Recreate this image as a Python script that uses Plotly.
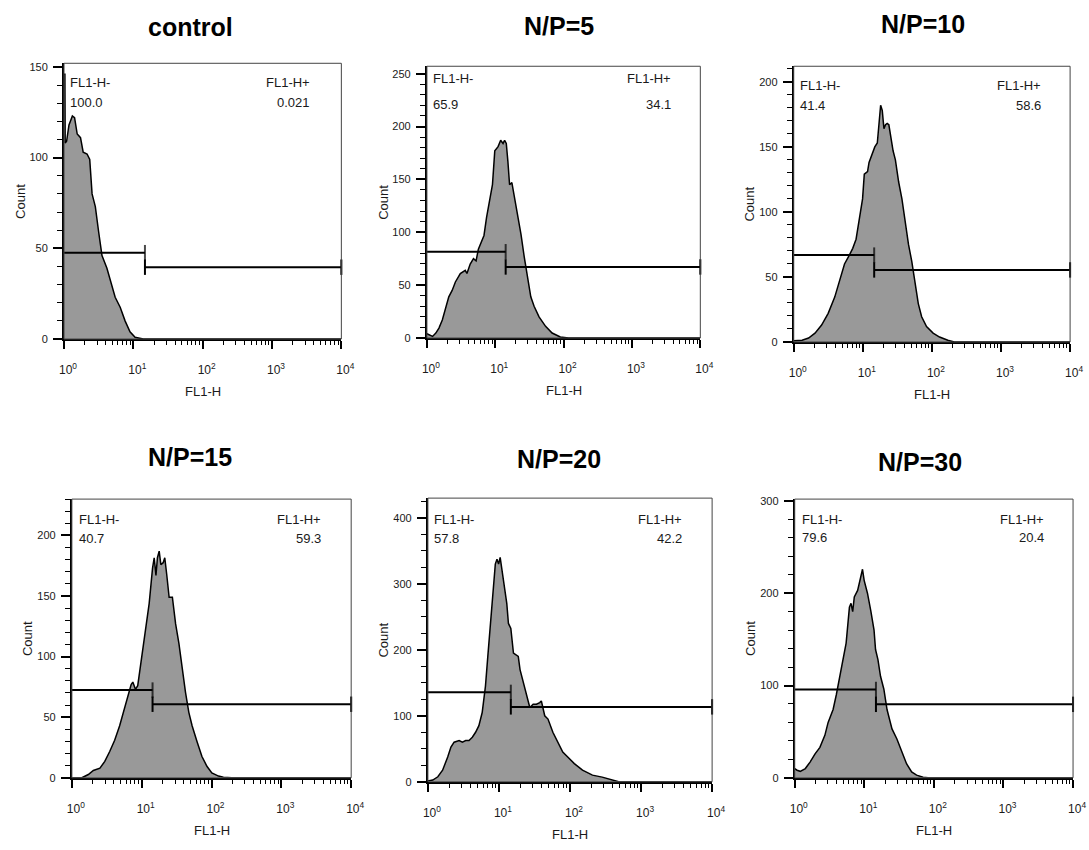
import plotly.graph_objects as go

W, H = 1089, 850

# ---------------- data ----------------
titles = ["control", "N/P=5", "N/P=10", "N/P=15", "N/P=20", "N/P=30"]
neg_label = "FL1-H-"
pos_label = "FL1-H+"
neg_pct = ["100.0", "65.9", "41.4", "40.7", "57.8", "79.6"]
pos_pct = ["0.021", "34.1", "58.6", "59.3", "42.2", "20.4"]
x_title = "FL1-H"
y_title = "Count"

# histogram outlines (FL1-H value, count)
control_x = [1.0, 1.03, 1.04, 1.09, 1.18, 1.32, 1.42, 1.55, 1.73, 1.89, 2.15, 2.35, 2.54, 2.83, 3.16,
             3.53, 4.16, 4.65, 5.47, 6.46, 7.60, 8.95, 10.6, 13.9, 10000]
control_y = [146, 146, 108, 109, 118, 123, 122, 113, 111, 103, 102, 99, 80, 73, 59,
             46, 39, 32, 23, 17.5, 10, 4, 1, 0, 0]

np5_x = [1.0, 1.08, 1.21, 1.35, 1.50, 1.68, 1.87, 2.09, 2.34, 2.61, 3.08, 3.64, 3.85, 4.30, 4.80,
         5.24, 5.66, 6.32, 6.84, 7.46, 8.34, 9.10, 9.84, 11.0, 12.0, 13.0, 13.7, 14.5, 15.3, 16.2,
         17.5, 19.1, 21.3, 23.8, 26.5, 29.6, 33.1, 37.0, 43.7, 54.5, 67.9, 89.5, 118, 10000]
np5_y = [4, 3, 1.5, 4.7, 9.4, 17, 28, 39, 45, 53, 61, 64, 61, 70, 75,
         73, 84, 91, 97, 114, 130, 145, 177, 181, 187, 184, 187, 184, 167, 145,
         147, 133, 116, 98, 77, 58, 39, 30, 20, 11, 4.7, 1, 0, 0]

np10_x = [1.0, 1.32, 1.64, 2.03, 2.53, 3.15, 3.92, 4.61, 5.43, 6.41, 7.14, 7.98, 8.89, 9.91, 10.5,
          11.7, 12.3, 13.8, 14.9, 16.2, 17.1, 18.1, 19.1, 20.2, 21.3, 22.5, 23.8, 25.6, 27.4, 29.6,
          33.0, 36.8, 41.0, 45.8, 51.1, 57.0, 63.5, 71.0, 83.6, 104, 129, 170, 211, 10000]
np10_y = [1, 1.3, 3, 6.8, 13, 22, 34.5, 47, 60, 67, 72, 79, 96, 110, 129,
          131, 138, 145, 150, 153, 170.5, 182, 178, 164, 167, 168, 167, 155, 147, 140,
          123, 110, 92, 75, 62, 44.6, 29.5, 19.4, 11.8, 6.8, 3.8, 1.3, 0, 0]

np15_x = [1.0, 1.39, 1.72, 2.03, 2.52, 2.96, 3.48, 4.10, 4.83, 5.69, 6.34, 7.06, 7.46, 8.13, 8.77,
          9.46, 10.3, 11.5, 12.8, 14.3, 15.1, 16.0, 16.8, 17.8, 18.8, 20.3, 21.4, 22.8, 24.7, 27.5,
          30.6, 34.1, 38.0, 42.4, 47.3, 52.7, 61.9, 72.9, 85.9, 101, 126, 148, 194, 10000]
np15_y = [0, 0, 2.7, 6, 8, 13.5, 21.7, 31, 43, 57, 68, 77, 79, 73, 76,
          89, 106, 122, 144, 173, 181.6, 167, 181.6, 187, 176, 177.5, 181.6, 168, 149, 149,
          127, 111, 89, 70.5, 54, 43, 30, 17.6, 9.5, 4, 1.4, 0.5, 0, 0]

np20_x = [1.0, 1.17, 1.38, 1.61, 1.90, 2.11, 2.34, 2.75, 3.06, 3.40, 3.79, 4.22, 4.69, 5.22, 5.81,
          6.46, 6.97, 7.59, 8.26, 8.89, 9.38, 9.89, 10.4, 11.0, 11.6, 12.9, 13.6, 14.7, 16.0, 17.4,
          18.7, 19.8, 22.0, 24.5, 27.2, 30.3, 33.7, 37.5, 39.5, 44.1, 49.0, 57.4, 67.5, 79.1, 92.9,
          115, 150, 207, 284, 392, 484, 10000]
np20_y = [1, 2.5, 7.5, 17.5, 37.5, 52.5, 60, 62.5, 60, 62.5, 62.5, 67.5, 75, 85, 105,
          145, 190, 240, 280, 330, 337.5, 330, 340, 320, 300, 270, 240, 232.5, 195, 192.5,
          190, 170, 150, 130, 112.5, 117.5, 117.5, 120, 122.5, 100, 95, 75, 60, 45, 37.5,
          27.5, 17.5, 10, 7, 2.5, 0, 0]

np30_x = [1.0, 1.08, 1.20, 1.42, 1.66, 1.96, 2.30, 2.71, 3.02, 3.56, 3.96, 4.42, 4.92, 5.48, 6.11,
          6.44, 6.81, 7.18, 8.02, 8.93, 9.42, 9.95, 11.1, 12.4, 13.8, 14.5, 15.7, 17.1, 19.1, 21.2,
          25.0, 29.4, 34.6, 40.6, 47.9, 56.4, 70.0, 82.2, 10000]
np30_y = [10, 8.2, 7, 10, 17, 26, 33, 46, 60, 74, 90, 110, 128, 146, 185,
          189, 180, 196, 203, 221, 226, 214, 200, 181, 160, 139, 128, 110, 96, 74,
          53, 42, 28, 15, 6.4, 2.9, 0.7, 0, 0]

hist_x = [control_x, np5_x, np10_x, np15_x, np20_x, np30_x]
hist_y = [control_y, np5_y, np10_y, np15_y, np20_y, np30_y]

# gates
gate_start = 1
gate_end = 10000
gate_boundary = [14.7, 14.2, 14.6, 14.3, 14.7, 14.7]
gate_neg_level = [47.6, 81.6, 66.8, 72.4, 135.5, 95.7]
gate_pos_level = [39.6, 67.2, 55.4, 60.7, 113.5, 79.6]

# axes
y_max = [152, 257, 212, 230, 430, 302]
y_dtick = [50, 50, 50, 50, 100, 100]
y_minor = [10, 10, 10, 10, 25, 20]
x_tickvals = [1, 10, 100, 1000, 10000]
x_ticktext = ["10<sup>0</sup>", "10<sup>1</sup>", "10<sup>2</sup>", "10<sup>3</sup>", "10<sup>4</sup>"]
x_minor_vals = [m * d for d in [1, 10, 100, 1000] for m in range(2, 10)]

# ---------------- layout (pixels) ----------------
boxes = [(60, 60, 342, 339), (429, 63, 707, 338), (802, 63, 1083, 342),
         (68, 501, 352, 783), (430, 500, 719, 787), (803, 501, 1086, 783)]
title_pos = [(189, 23), (563, 22), (933, 20), (188, 458), (563, 460), (930, 463)]
neg_text_pos = [(64, 79, 100), (433, 75, 102), (806, 82, 103), (73, 522, 541), (434, 522, 541), (808, 522, 540)]
pos_text_right = [312, 679, 1055, 323, 690, 1058]

FONT = "Liberation Sans, Arial, sans-serif"
TXT = "#1a1a1a"
fill_col = "#999999"


def px(x):
    return x / W


def py(y):
    return 1 - y / H


fig = go.Figure()
annotations = []
shapes = []
layout = dict(width=W, height=H, margin=dict(l=0, r=0, t=0, b=0),
              paper_bgcolor="white", plot_bgcolor="white", showlegend=False,
              font=dict(family=FONT, color=TXT, size=12))

for i in range(6):
    k = "" if i == 0 else str(i + 1)
    xa, ya = "x" + k, "y" + k
    L, T, R, B = boxes[i]

    fig.add_trace(go.Scatter(x=hist_x[i], y=hist_y[i], mode="lines", fill="tozeroy",
                             fillcolor=fill_col, line=dict(color="black", width=1.5),
                             xaxis=xa, yaxis=ya, hoverinfo="skip"))
    # negative gate
    fig.add_trace(go.Scatter(x=[gate_start, gate_boundary[i]], y=[gate_neg_level[i]] * 2,
                             mode="lines+markers", cliponaxis=False,
                             line=dict(color="black", width=2),
                             marker=dict(symbol="line-ns", size=[0, 11],
                                         line=dict(color="black", width=2)),
                             xaxis=xa, yaxis=ya, hoverinfo="skip"))
    # positive gate
    fig.add_trace(go.Scatter(x=[gate_boundary[i], gate_end], y=[gate_pos_level[i]] * 2,
                             mode="lines+markers", cliponaxis=False,
                             line=dict(color="black", width=2),
                             marker=dict(symbol="line-ns", size=11,
                                         line=dict(color="black", width=2)),
                             xaxis=xa, yaxis=ya, hoverinfo="skip"))

    layout["xaxis" + k] = dict(
        domain=[px(L), px(R)], anchor=ya, type="log", range=[0, 4],
        tickmode="array", tickvals=x_tickvals, ticktext=x_ticktext,
        ticks="outside", ticklen=8, tickwidth=1.5, tickcolor="black",
        ticklabelstandoff=11, ticklabelshift=4,
        tickfont=dict(size=12, family=FONT, color=TXT),
        showline=True, linewidth=2, linecolor="black", showgrid=False, zeroline=False,
        minor=dict(tickmode="array", tickvals=x_minor_vals, ticks="outside", ticklen=4,
                   tickwidth=1, tickcolor="black", showgrid=False),
        fixedrange=True)
    layout["yaxis" + k] = dict(
        domain=[py(B), py(T)], anchor=xa, range=[0, y_max[i]],
        tick0=0, dtick=y_dtick[i], ticks="outside", ticklen=9, tickwidth=1.5,
        tickcolor="black", ticklabelstandoff=3,
        tickfont=dict(size=11, family=FONT, color=TXT),
        showline=True, linewidth=2, linecolor="black", showgrid=False, zeroline=False,
        minor=dict(dtick=y_minor[i], ticks="outside", ticklen=5, tickwidth=1,
                   tickcolor="black", showgrid=False),
        fixedrange=True)

    # box (top/right border)
    shapes.append(dict(type="rect", xref=xa + " domain", yref=ya + " domain",
                       x0=0, x1=1, y0=0, y1=1, line=dict(color="#444", width=1),
                       layer="above"))

    # titles
    tx, ty = title_pos[i]
    annotations.append(dict(text="<b>%s</b>" % titles[i], x=px(tx), y=py(ty), xref="paper",
                            yref="paper", showarrow=False, xanchor="center", yanchor="middle",
                            font=dict(size=25, family=FONT, color="black")))
    # axis titles
    annotations.append(dict(text=y_title, x=px(L - 45), y=py((T + B) / 2), xref="paper",
                            yref="paper", showarrow=False, textangle=-90,
                            xanchor="center", yanchor="middle",
                            font=dict(size=13, family=FONT, color=TXT)))
    annotations.append(dict(text=x_title, x=px((L + R) / 2), y=py(B + 53), xref="paper",
                            yref="paper", showarrow=False, xanchor="center", yanchor="middle",
                            font=dict(size=13, family=FONT, color=TXT)))
    # gate labels
    nx, ny1, ny2 = neg_text_pos[i]
    rx = pos_text_right[i]
    for txt, x, y, anc in [(neg_label, nx, ny1, "left"), (neg_pct[i], nx, ny2, "left"),
                           (pos_label, rx, ny1, "right"), (pos_pct[i], rx, ny2, "right")]:
        annotations.append(dict(text=txt, x=px(x), y=py(y), xref="paper", yref="paper",
                                showarrow=False, xanchor=anc, yanchor="middle",
                                font=dict(size=13, family=FONT, color=TXT)))

layout["annotations"] = annotations
layout["shapes"] = shapes
fig.update_layout(**layout)
fig.write_html("out.html", config={"displayModeBar": False},
               post_script="document.body.style.margin='0';document.body.style.overflow='hidden';")
